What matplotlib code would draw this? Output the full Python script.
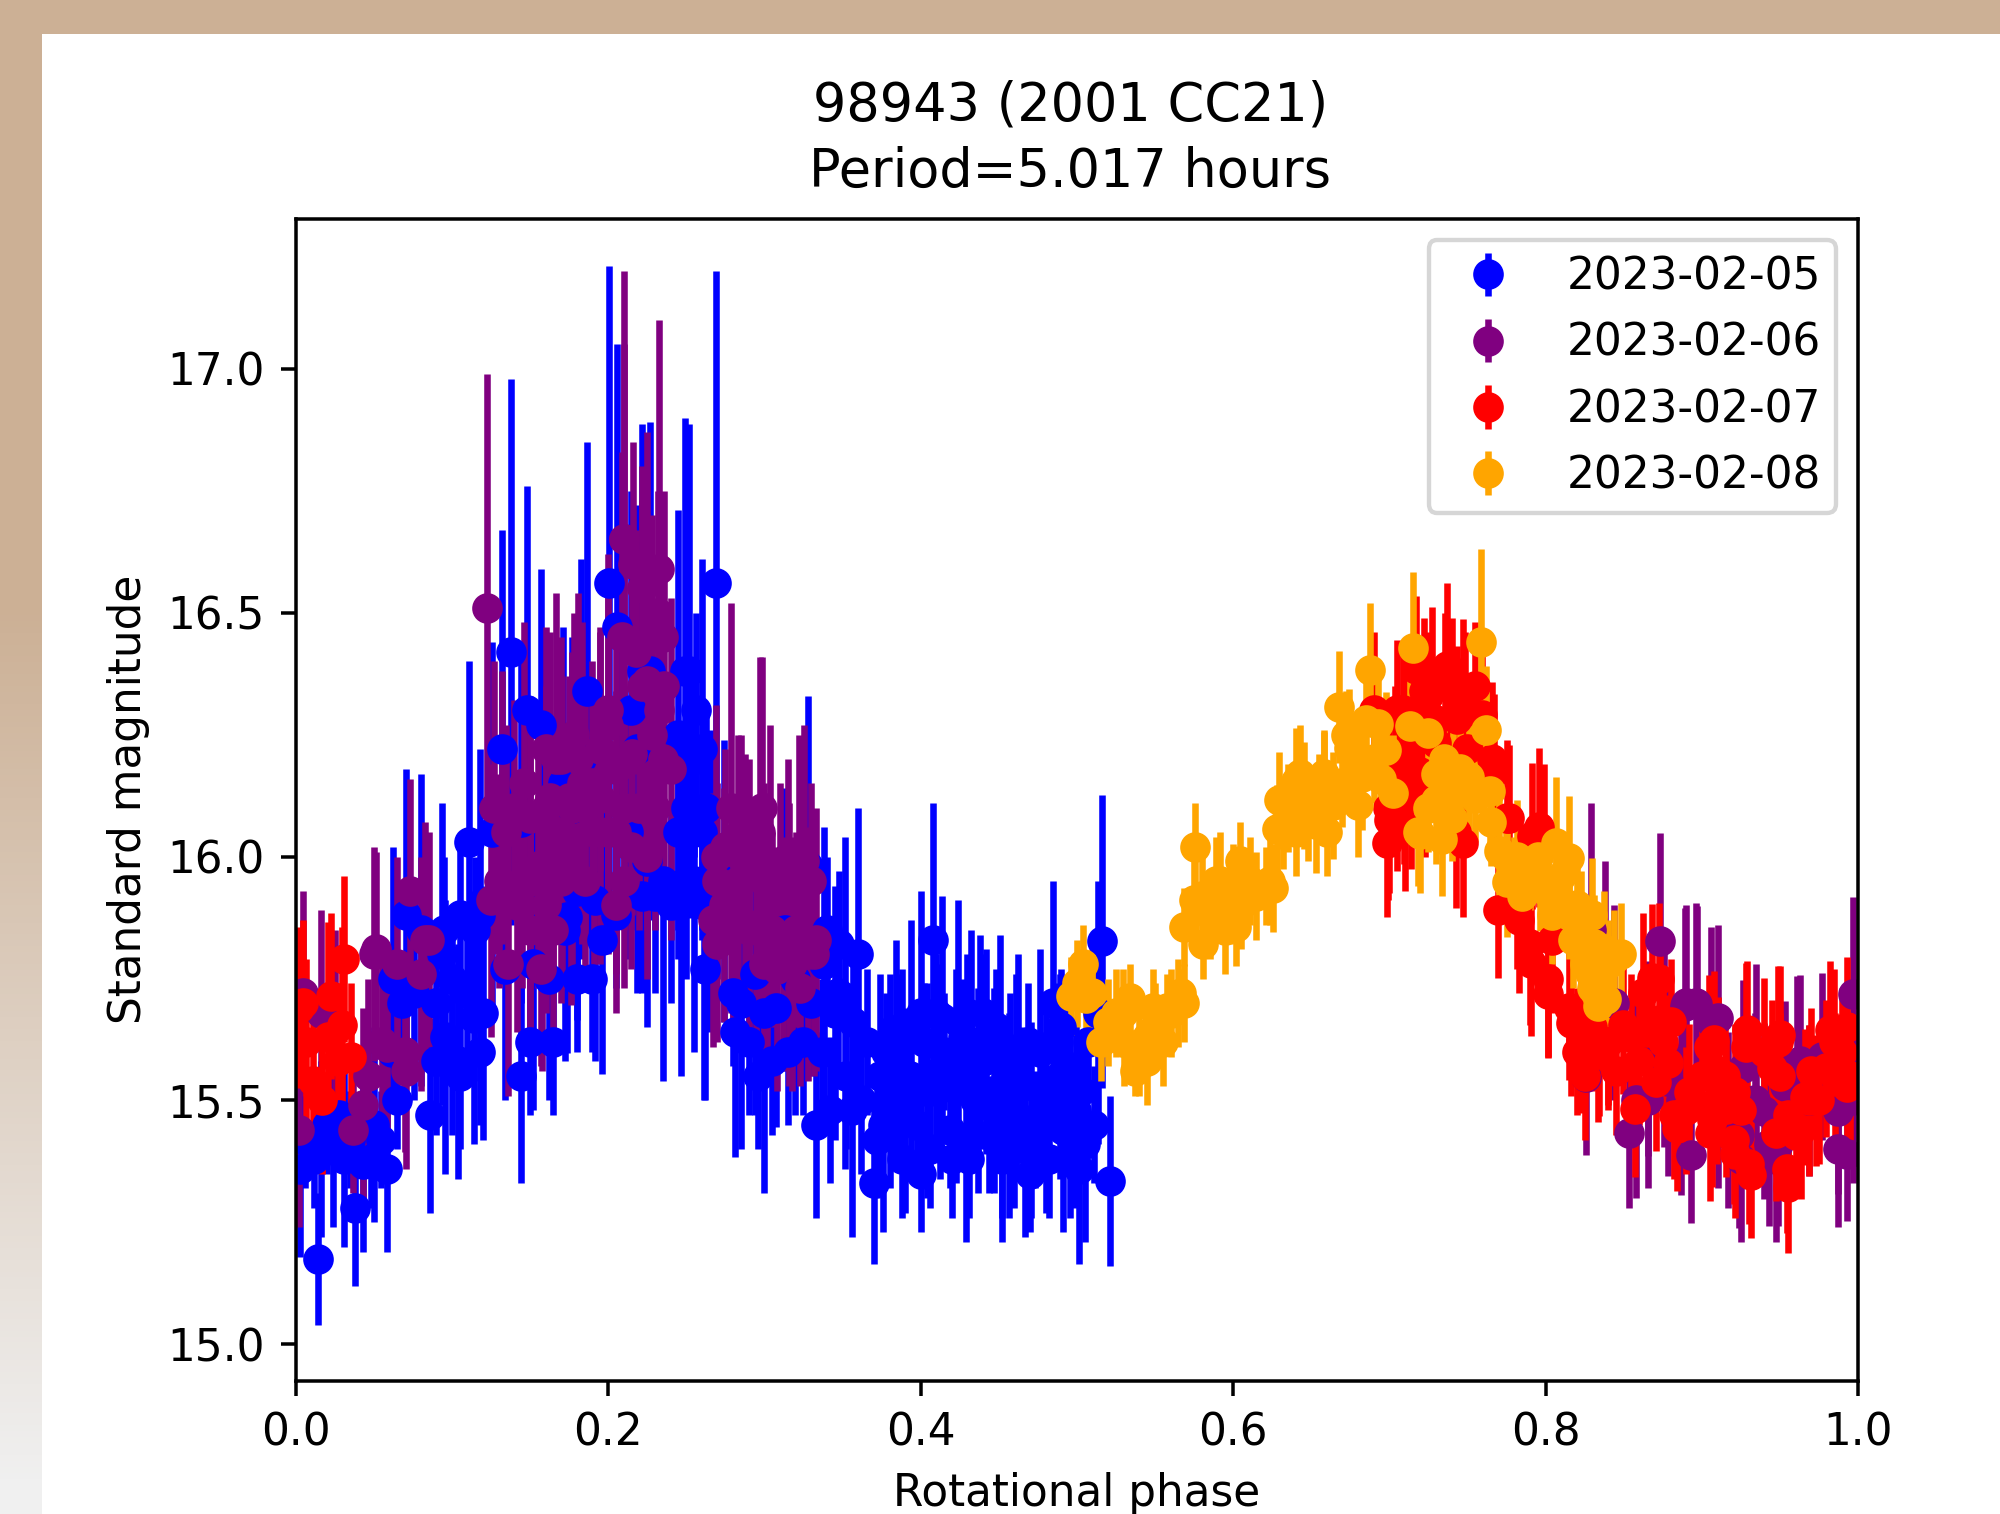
import numpy as np
import matplotlib
matplotlib.use('Agg')
import matplotlib.pyplot as plt
from matplotlib.colors import LinearSegmentedColormap
from matplotlib.patches import Rectangle

labels = ['2023-02-05', '2023-02-06', '2023-02-07', '2023-02-08']
colors = ['blue', 'purple', 'red', 'orange']

# values: phase, magnitude, error
blue_x = [.0142, .003, .016, .024, .0313, .038, .043, .0587, .0624, .05, .071, .08, .076, .086, .094, .0955, .104,
          .111, .114, .118, .12, .126, .132, .134, .138, .1444, .144, .148, .152, .157, .162, .171, .1726, .174,
          .177, .183, .1865, .18, .1914, .196, .2007, .2055, .2125, .215, .2185, .2215, .2267, .225, .235, .245,
          .247, .249, .2517, .255, .26, .2614, .262, .265, .269, .274, .2815, .285, .294, .3, .3075, .313, .3195,
          .328, .333, .338, .345, .3515, .356, .36, .3702, .3739, .3761, .3803, .3842, .386, .39, .3942, .4, .404,
          .408, .4123, .4138, .4225, .424, .4288, .4325, .4367, .438, .442, .447, .4507, .4524, .4567, .461, .4624,
          .467, .471, .4767, .4806, .4848, .489, .4912, .4955, .4998, .5015, .505, .5137, .516, .5211]
blue_y = [15.175, 15.36, 15.40, 15.42, 15.38, 15.28, 15.37, 15.36, 15.75, 15.45, 15.88, 15.85, 15.72, 15.47, 15.80,
          15.63, 15.58, 16.03, 15.67, 15.88, 15.68, 16.05, 16.22, 15.77, 16.42, 15.55, 16.07, 16.30, 15.78, 16.27,
          15.75, 16.15, 15.85, 15.877, 16.10, 16.20, 16.34, 15.93, 15.91, 15.83, 16.56, 16.47, 16.05, 16.30, 16.22,
          16.38, 16.38, 15.99, 15.95, 16.25, 15.91, 16.38, 16.38, 15.95, 16.22, 15.90, 15.77, 15.95, 16.56, 15.95,
          15.64, 15.70, 15.76, 15.68, 15.69, 15.85, 15.75, 15.98, 15.45, 15.78, 15.68, 15.70, 15.48, 15.80, 15.33,
          15.55, 15.45, 15.54, 15.60, 15.56, 15.48, 15.63, 15.68, 15.52, 15.83, 15.56, 15.67, 15.55, 15.66, 15.41,
          15.62, 15.52, 15.62, 15.60, 15.52, 15.62, 15.42, 15.47, 15.56, 15.60, 15.42, 15.46, 15.60, 15.48, 15.70,
          15.55, 15.44, 15.46, 15.48, 15.36, 15.41, 15.68, 15.826, 15.335]
blue_e = [.135, .18, .18, .18, .18, .16, .18, .17, .27, .20, .30, .32, .22, .20, .31, .28, .24, .37, .26, .34, .26,
          .39, .45, .27, .56, .22, .37, .46, .30, .32, .25, .32, .27, .28, .35, .41, .51, .265, .33, .275, .65, .58,
          .26, .45, .50, .506, .51, .34, .41, .46, .36, .52, .506, .35, .39, .40, .27, .31, .64, .29, .255, .30, .29,
          .37, .245, .29, .28, .35, .19, .28, .26, .34, .26, .30, .165, .21, .22, .22, .23, .20, .21, .24, .25, .22,
          .28, .22, .25, .22, .25, .20, .23, .21, .22, .21, .21, .22, .21, .21, .20, .20, .20, .20, .21, .21, .25,
          .21, .21, .20, .19, .195, .20, .27, .30, .175]

# the dense part of the blue cloud, where single points can only be estimated
blue_fill_x = [.372, .378, .383, .388, .393, .398, .402, .406, .41, .415, .419, .423, .427, .431, .435, .44, .444,
               .448, .453, .457, .46, .465, .469, .473, .477, .482, .486, .49, .494, .498, .503, .507, .511, .388,
               .41, .43, .452, .47, .49, .42, .44, .4,
               .337, .342, .347, .352, .357, .362, .366, .34, .348,
               .006, .012, .02, .028, .035, .048, .055, .065, .062, .068,
               .09, .095, .1, .105, .11, .115, .118, .1, .09, .105,
               .25, .255, .26, .25, .245, .256, .263, .24, .23, .222,
               .28, .29, .296, .305, .315, .325, .33, .15, .165, .18, .19, .205]
blue_fill_y = [15.42, 15.6, 15.5, 15.38, 15.55, 15.45, 15.62, 15.4, 15.52, 15.6, 15.44, 15.53, 15.63, 15.38, 15.5,
               15.58, 15.43, 15.65, 15.5, 15.6, 15.4, 15.53, 15.62, 15.44, 15.52, 15.38, 15.62, 15.47, 15.57, 15.4,
               15.52, 15.62, 15.45, 15.65, 15.68, 15.68, 15.38, 15.35, 15.65, 15.38, 15.68, 15.35,
               15.6, 15.48, 15.72, 15.55, 15.66, 15.5, 15.62, 15.85, 15.82,
               15.42, 15.38, 15.45, 15.47, 15.42, 15.38, 15.42, 15.5, 15.6, 15.7,
               15.7, 15.85, 15.75, 15.88, 15.72, 15.85, 15.6, 15.58, 15.58, 15.55,
               16.1, 16.2, 16.05, 15.95, 16.05, 16.3, 16.1, 15.9, 15.92, 15.92,
               15.72, 15.62, 15.55, 15.58, 15.6, 15.62, 15.7, 15.62, 15.62, 15.75, 15.75, 15.88]
blue_fill_e = [.12] * 42 + [.15] * 9 + [.1] * 10 + [.15] * 10 + [.2] * 10 + [.15] * 12

purple_x = [.0024, .005, .0166, .025, .0367, .043, .0465, .05, .0514, .0556, .0587, .065, .07, .071, .0734, .08, .083,
            .0857, .1224, .125, .127, .132, .136, .142, .146, .15, .157, .158, .163, .1665, .1706, .176, .177, .181,
            .1836, .191, .195, .2, .205, .209, .21, .2105, .2155, .2215, .225, .2325, .2325, .236, .24, .267, .269,
            .274, .279, .283, .2876, .295, .297, .2986, .302, .3035, .308, .312, .316, .318, .322, .323, .328, .3256,
            .332, .333, .829, .8256, .8381, .844, .8534, .8582, .8654, .8659, .8733, .876, .8781, .8866, .889, .89,
            .8932, .8964, .8972, .9059, .9104, .9105, .9171, .9237, .9248, .9264, .9343, .9349, .9396, .9428, .9476,
            .949, .953, .9608, .9627, .9688, .9768, .9874, .9874, .9927, .9966, .9966]
purple_y = [15.44, 15.72, 15.68, 15.65, 15.44, 15.49, 15.55, 15.80, 15.81, 15.62, 15.61, 15.78, 15.60, 15.56, 15.93,
            15.76, 15.83, 15.83, 16.51, 15.91, 16.10, 16.10, 15.78, 15.90, 16.15, 15.95, 15.77, 15.85, 16.12, 16.20,
            16.05, 15.995, 16.10, 16.20, 16.15, 16.05, 16.12, 16.27, 16.05, 16.45, 16.65, 16.65, 16.21, 16.35, 16.36,
            16.59, 16.30, 16.35, 16.18, 15.87, 16.00, 15.90, 16.10, 15.95, 15.98, 15.86, 16.05, 16.10, 15.85, 15.98,
            15.77, 15.80, 15.82, 15.78, 15.95, 15.73, 15.80, 15.99, 15.80, 15.83, 15.85, 15.549, 15.78, 15.70, 15.434,
            15.50, 15.586, 15.50, 15.826, 15.605, 15.54, 15.50, 15.694, 15.70, 15.388, 15.70, 15.698, 15.66, 15.50,
            15.669, 15.46, 15.429, 15.38, 15.566, 15.50, 15.60, 15.478, 15.41, 15.38, 15.41, 15.53, 15.576, 15.58,
            15.50, 15.59, 15.478, 15.40, 15.39, 15.718, 15.50]
purple_e = [.20, .21, .21, .20, .13, .20, .20, .22, .20, .19, .20, .22, .205, .20, .23, .24, .24, .22, .48, .28, .30,
            .28, .27, .26, .33, .30, .20, .29, .34, .34, .32, .30, .32, .34, .33, .30, .34, .35, .29, .38, .40, .55,
            .33, .38, .51, .51, .40, .40, .35, .26, .31, .24, .42, .30, .23, .25, .36, .31, .28, .29, .25, .24, .29,
            .26, .30, .20, .26, .28, .25, .27, .26, .16, .21, .20, .155, .20, .20, .18, .223, .20, .195, .194, .20,
            .20, .14, .204, .20, .195, .18, .19, .18, .19, .17, .18, .18, .18, .18, .167, .17, .167, .173, .18, .177,
            .155, .172, .17, .16, .136, .20, .17]

purple_fill_x = [.16, .165, .17, .155, .15, .16, .17, .178, .175, .185, .19, .195, .2, .205, .21, .215, .22, .225,
                 .23, .235, .228, .232, .222, .216, .235, .228, .218, .2, .13, .135, .14, .145, .15, .165, .16, .185,
                 .205, .21, .27, .275, .28, .285, .29, .29, .3, .305, .31, .315, .32, .325, .33, .3, .27]
purple_fill_y = [16.1, 16.0, 15.95, 15.98, 16.08, 16.22, 16.2, 16.25, 16.12, 16.1, 16.15, 16.22, 16.05, 16.18, 16.1,
                 16.02, 16.1, 16.0, 16.1, 16.2, 16.45, 16.5, 16.55, 16.6, 16.45, 16.25, 16.42, 16.3, 15.95, 16.05,
                 16.1, 15.95, 15.85, 15.85, 15.9, 15.95, 15.9, 15.95, 15.95, 16.02, 15.85, 16.05, 15.85, 16.0, 15.95,
                 15.85, 15.95, 16.0, 15.85, 15.9, 15.95, 15.78, 15.82]
purple_fill_e = [.25] * 28 + [.22] * 10 + [.2] * 15

red_x = [.002, .005, .007, .011, .017, .021, .023, .027, .03, .031, .0355, .6904, .6983, .6991, .7, .7036, .7047,
         .7092, .709, .7116, .7142, .7169, .7195, .7222, .723, .7275, .7301, .7354, .737, .7429, .7434, .7474, .7474,
         .7487, .7593, .766, .7672, .7699, .7752, .7765, .7818, .7832, .7898, .791, .7911, .7956, .799, .8017, .8017,
         .8044, .815, .8163, .8229, .8237, .8335, .834, .8399, .8495, .8574, .8622, .868, .8707, .8725, .8733, .8786,
         .8821, .884, .892, .9044, .9052, .9065, .9078, .9105, .9158, .9205, .9211, .9211, .929, .9285, .9303, .9317,
         .9396, .9449, .9476, .949, .9502, .9548, .9555, .9635, .9661, .9688, .9728, .9794, .982, .9847, .9927, .9927]
red_y = [15.69, 15.70, 15.62, 15.54, 15.50, 15.63, 15.715, 15.58, 15.655, 15.79, 15.59, 16.30, 16.027, 16.10, 16.076,
         16.20, 16.30, 16.17, 16.30, 16.213, 16.125, 16.385, 16.174, 16.34, 16.15, 16.37, 16.233, 16.35, 16.39, 16.05,
         16.282, 16.027, 16.33, 16.31, 16.29, 16.20, 16.174, 15.89, 16.08, 16.079, 15.90, 15.87, 15.82, 15.782, 16.042,
         16.06, 16.03, 15.718, 15.75, 15.83, 15.69, 15.659, 15.625, 15.65, 15.596, 15.61, 15.62, 15.654, 15.483, 15.72,
         15.752, 15.537, 15.75, 15.664, 15.576, 15.47, 15.444, 15.517, 15.61, 15.434, 15.46, 15.625, 15.56, 15.483,
         15.42, 15.517, 15.39, 15.645, 15.61, 15.37, 15.348, 15.60, 15.566, 15.434, 15.62, 15.635, 15.36, 15.323,
         15.439, 15.507, 15.50, 15.50, 15.566, 15.645, 15.62, 15.65, 15.527]
red_e = [.165, .17, .17, .16, .15, .236, .17, .16, .20, .17, .15, .16, .15, .19, .15, .15, .143, .185, .14, .15, .15,
         .15, .16, .15, .15, .142, .15, .15, .17, .155, .15, .15, .158, .15, .15, .158, .16, .138, .16, .15, .13, .15,
         .166, .15, .15, .163, .16, .13, .16, .15, .148, .15, .15, .157, .14, .142, .14, .14, .14, .165, .15, .14,
         .154, .15, .14, .13, .13, .14, .147, .14, .137, .14, .153, .14, .133, .14, .13, .14, .172, .123, .13, .152,
         .14, .14, .155, .14, .132, .135, .14, .14, .155, .135, .14, .14, .15, .145, .14]

red_fill_x = [.7, .705, .71, .72, .725, .73, .74, .75, .755, .745, .82, .825, .83, .84, .845, .855, .86, .865, .875,
              .88, .89, .9, .91, .915, .925, .95, .955, .96, .97, .975, .985, .99, .995]
red_fill_y = [16.15, 16.1, 16.06, 16.25, 16.33, 16.28, 16.36, 16.22, 16.35, 16.15, 15.6, 15.55, 15.65, 15.62, 15.56,
              15.63, 15.58, 15.64, 15.62, 15.66, 15.48, 15.55, 15.5, 15.55, 15.48, 15.55, 15.47, 15.43, 15.56, 15.5,
              15.55, 15.6, 15.55]
red_fill_e = [.13] * 33

orange_x = [.4966, .504, .506, .5157, .5338, .5294, .537, .545, .549, .558, .5667, .5687, .5687, .575, .5755, .5809,
            .589, .5919, .5979, .6, .602, .6043, .6106, .6214, .6236, .6256, .628, .6294, .6322, .64, .6453, .6426,
            .6532, .6585, .6585, .6638, .6678, .6744, .6798, .6824, .6877, .693, .698, .7023, .713, .7155, .7187,
            .7195, .725, .73, .734, .7407, .7513, .7588, .762, .7646, .77, .7752, .782, .7832, .7964, .8044, .807,
            .807, .815, .8176, .823, .8283, .8296, .831, .8335, .8375, .8388, .8441, .8481]
orange_y = [15.715, 15.78, 15.71, 15.62, 15.71, 15.68, 15.56, 15.63, 15.69, 15.69, 15.72, 15.855, 15.70, 15.91, 16.02,
            15.82, 15.95, 15.95, 15.90, 15.935, 15.855, 15.99, 15.95, 15.939, 15.95, 15.935, 16.056, 16.115, 16.065,
            16.154, 16.125, 16.17, 16.066, 16.145, 16.17, 16.105, 16.306, 16.223, 16.105, 16.164, 16.382, 16.272,
            16.218, 16.13, 16.267, 16.427, 16.05, 16.046, 16.254, 16.115, 16.037, 16.135, 16.164, 16.44, 16.26,
            16.135, 16.012, 15.948, 16.0, 15.968, 15.958, 15.88, 16.027, 15.919, 15.998, 15.83, 15.87, 15.762, 15.88,
            15.821, 15.694, 15.81, 15.708, 15.79, 15.80]
orange_e = [.08, .08, .07, .08, .07, .09, .05, .08, .08, .07, .05, .08, .08, .09, .09, .07, .09, .10, .08, .09, .08,
            .08, .09, .08, .09, .09, .09, .10, .09, .11, .11, .10, .10, .11, .09, .11, .115, .12, .105, .11, .137,
            .13, .12, .12, .13, .157, .11, .12, .13, .13, .118, .12, .13, .19, .13, .13, .12, .112, .115, .12, .11,
            .10, .137, .11, .127, .10, .10, .10, .118, .10, .09, .12, .09, .10, .104]

orange_fill_x = [.5, .51, .52, .525, .53, .54, .545, .55, .555, .56, .565, .58, .585, .595, .605, .615, .635, .64,
                 .648, .655, .66, .67, .678, .685, .69, .695, .672, .725, .73, .735, .74, .745, .755, .765, .775,
                 .78, .785, .79, .795, .8, .81, .815, .82, .825, .835, .84, .83]
orange_fill_y = [15.74, 15.72, 15.66, 15.68, 15.62, 15.6, 15.58, 15.65, 15.62, 15.68, 15.7, 15.92, 15.88, 15.85, 15.9,
                 15.92, 16.1, 16.05, 16.08, 16.12, 16.05, 16.15, 16.2, 16.28, 16.2, 16.16, 16.25, 16.1, 16.17, 16.2,
                 16.08, 16.18, 16.12, 16.07, 16.0, 15.95, 15.92, 15.98, 16.0, 15.93, 15.96, 15.88, 15.9, 15.78, 15.75,
                 15.78, 15.73]
orange_fill_e = [.09] * 47

x_series = [blue_x + blue_fill_x, purple_x + purple_fill_x, red_x + red_fill_x, orange_x + orange_fill_x]
y_series = [blue_y + blue_fill_y, purple_y + purple_fill_y, red_y + red_fill_y, orange_y + orange_fill_y]
e_series = [blue_e + blue_fill_e, purple_e + purple_fill_e, red_e + red_fill_e, orange_e + orange_fill_e]

fig = plt.figure(figsize=(2000 / 315, 1514 / 315), dpi=315)

# tan page background behind the picture
tan = '#ccb095'
bg = fig.add_axes([0, 0, 42 / 2000, 1])
cmap = LinearSegmentedColormap.from_list('band', [(0, tan), (0.4, tan), (0.98, '#f0f0f0'), (1, '#f0f0f0')])
bg.imshow(np.linspace(0, 1, 256)[:, None], aspect='auto', cmap=cmap)
bg.axis('off')
fig.add_artist(Rectangle((0, 1 - 34 / 1514), 1, 34 / 1514, transform=fig.transFigure, color=tan, lw=0))

ax = fig.add_axes([295.5 / 2000, 1 - 1381 / 1514, 1562.5 / 2000, (1381 - 218.5) / 1514])
for xs, ys, es, c, lab in zip(x_series, y_series, e_series, colors, labels):
    ax.errorbar(xs, ys, yerr=es, fmt='o', color=c, label=lab)

ax.set_xlim(0, 1)
ax.set_ylim(14.925, 17.308)
ax.set_xlabel('Rotational phase')
ax.set_ylabel('Standard magnitude')
ax.set_title('98943 (2001 CC21)\nPeriod=5.017 hours', linespacing=1.35, pad=7.2, x=0.496)
ax.legend(loc='upper right', labelspacing=0.53, borderpad=0.35)

fig.savefig('out.png', dpi=315)
